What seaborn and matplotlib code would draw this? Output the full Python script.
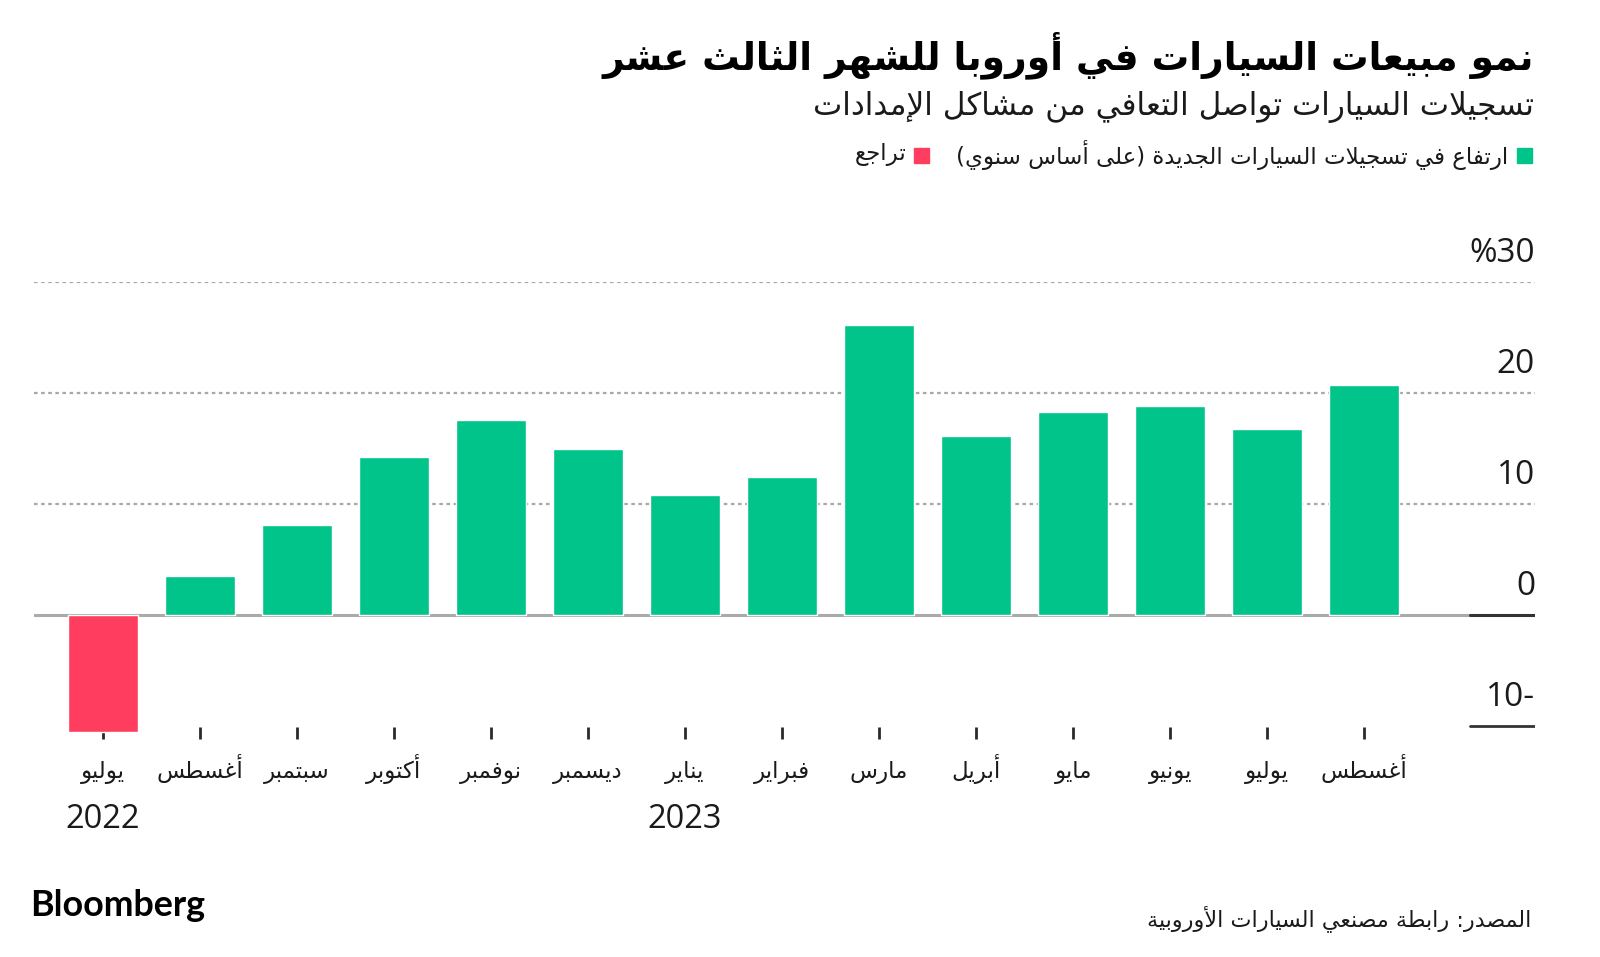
import matplotlib
matplotlib.use("Agg")
import matplotlib.pyplot as plt
import seaborn as sns
import pandas as pd
import numpy as np

# --- data -------------------------------------------------------------
month_keys = ["2022-07", "2022-08", "2022-09", "2022-10", "2022-11", "2022-12",
              "2023-01", "2023-02", "2023-03", "2023-04", "2023-05", "2023-06",
              "2023-07", "2023-08"]
month_names = ["يوليو", "أغسطس", "سبتمبر", "أكتوبر", "نوفمبر", "ديسمبر",
               "يناير", "فبراير", "مارس", "أبريل", "مايو", "يونيو",
               "يوليو", "أغسطس"]
growth = [-10.5, 3.5, 8.1, 14.2, 17.6, 15.0, 10.8, 12.4, 26.1, 16.1, 18.3, 18.8, 16.8, 20.7]
year_labels = {"2022-07": "2022", "2023-01": "2023"}
y_ticks = [30, 20, 10, 0, -10]
y_tick_labels = ["%30", "20", "10", "0", "10-"]

title = "نمو مبيعات السيارات في أوروبا للشهر الثالث عشر"
subtitle = "تسجيلات السيارات تواصل التعافي من مشاكل الإمدادات"
legend_up = "ارتفاع في تسجيلات السيارات الجديدة (على أساس سنوي)"
legend_down = "تراجع"
source = "المصدر: رابطة مصنعي السيارات الأوروبية"

GREEN = "#00C48A"
RED = "#FF3E5F"

# --- minimal arabic shaping (matplotlib has no complex text layout) ----
FORMS = {
    'ء': (0xFE80, 'U'), 'آ': (0xFE81, 'R'), 'أ': (0xFE83, 'R'), 'ؤ': (0xFE85, 'R'),
    'إ': (0xFE87, 'R'), 'ئ': (0xFE89, 'D'), 'ا': (0xFE8D, 'R'), 'ب': (0xFE8F, 'D'),
    'ة': (0xFE93, 'R'), 'ت': (0xFE95, 'D'), 'ث': (0xFE99, 'D'), 'ج': (0xFE9D, 'D'),
    'ح': (0xFEA1, 'D'), 'خ': (0xFEA5, 'D'), 'د': (0xFEA9, 'R'), 'ذ': (0xFEAB, 'R'),
    'ر': (0xFEAD, 'R'), 'ز': (0xFEAF, 'R'), 'س': (0xFEB1, 'D'), 'ش': (0xFEB5, 'D'),
    'ص': (0xFEB9, 'D'), 'ض': (0xFEBD, 'D'), 'ط': (0xFEC1, 'D'), 'ظ': (0xFEC5, 'D'),
    'ع': (0xFEC9, 'D'), 'غ': (0xFECD, 'D'), 'ف': (0xFED1, 'D'), 'ق': (0xFED5, 'D'),
    'ك': (0xFED9, 'D'), 'ل': (0xFEDD, 'D'), 'م': (0xFEE1, 'D'), 'ن': (0xFEE5, 'D'),
    'ه': (0xFEE9, 'D'), 'و': (0xFEED, 'R'), 'ى': (0xFEEF, 'R'), 'ي': (0xFEF1, 'D'),
}
LAM_ALEF = {'آ': 0xFEF5, 'أ': 0xFEF7, 'إ': 0xFEF9, 'ا': 0xFEFB}
MIRROR = {'(': ')', ')': '('}


def ar(text):
    toks = []
    i = 0
    while i < len(text):
        c = text[i]
        if c == 'ل' and i + 1 < len(text) and text[i + 1] in LAM_ALEF:
            toks.append((LAM_ALEF[text[i + 1]], 'R'))
            i += 2
            continue
        if c in FORMS:
            toks.append(FORMS[c])
        else:
            toks.append((c, None))
        i += 1
    out = []
    for k, (base, jt) in enumerate(toks):
        if jt is None:
            out.append(MIRROR.get(base, base))
            continue
        prev = k > 0 and toks[k - 1][1] == 'D'
        nxt = jt == 'D' and k + 1 < len(toks) and toks[k + 1][1] in ('D', 'R')
        if jt == 'U':
            off = 0
        elif prev and nxt:
            off = 3
        elif prev:
            off = 1
        elif nxt:
            off = 2
        else:
            off = 0
        out.append(chr(base + off))
    return ''.join(out)[::-1]


# --- figure -------------------------------------------------------------
sns.set_theme(style="white")
plt.rcParams['font.family'] = ['DejaVu Sans']

W, H = 1600, 957
fig = plt.figure(figsize=(W / 100, H / 100), dpi=100)
fig.patch.set_facecolor("white")


def fx(px):
    return px / W


def fy(py):
    return 1 - py / H


ax_l, ax_r, ax_t, ax_b = 34, 1535, 282, 739
ax = fig.add_axes([fx(ax_l), fy(ax_b), (ax_r - ax_l) / W, (ax_b - ax_t) / H])

df = pd.DataFrame({"month": month_keys, "growth": growth})
df["dir"] = np.where(df["growth"] >= 0, "up", "down")

sns.barplot(data=df, x="month", y="growth", hue="dir",
            palette={"up": GREEN, "down": RED}, dodge=False, legend=False,
            width=0.72, saturation=1, zorder=3, ax=ax)

ax.set_xlim(-0.71, 14.76)
ax.set_ylim(-11.17, 30)
for s in ax.spines.values():
    s.set_visible(False)
ax.set_xlabel("")
ax.set_ylabel("")
ax.set_yticks([])
ax.set_xticks(range(len(month_keys)))
ax.set_xticklabels([ar(m) for m in month_names], fontsize=16.5, color="#1a1a1a")
ax.tick_params(axis="x", bottom=True, direction="in", length=8.5, width=2.0,
               color="#2a2a2a", pad=28)
for lab in ax.get_xticklabels():
    lab.set_verticalalignment("baseline")
ax.set_facecolor("white")

# gridlines and reference lines
split = (1470 - ax_l) / (ax_r - ax_l)
for v, lab in zip(y_ticks, y_tick_labels):
    if v > 0:
        ax.axhline(v, color="#a8a8a8", lw=1.6, ls=(0, (1.6, 1.6)), zorder=1)
    elif v == 0:
        ax.axhline(v, xmax=split, color="#aaaaaa", lw=2.2, zorder=2)
        ax.axhline(v, xmin=split, color="#333333", lw=2.2, zorder=2)
    else:
        ax.axhline(v, xmin=split, color="#333333", lw=2.0, zorder=2)
    ax.annotate(lab, xy=(1.0, v), xycoords=("axes fraction", "data"),
                xytext=(0, 12), textcoords="offset pixels",
                ha="right", va="bottom", fontsize=24, family="Open Sans",
                color="#1a1a1a")

# year labels under the month axis
for key, yr in year_labels.items():
    ax.annotate(yr, xy=(month_keys.index(key), 0), xycoords=("data", "axes fraction"),
                xytext=(0, -80), textcoords="offset pixels",
                ha="center", va="center", fontsize=23.5, family="Open Sans",
                color="#1a1a1a")

# titles
fig.text(fx(1534), fy(55), ar(title), ha="right", va="center",
         fontsize=27, fontweight="bold", color="black")
fig.text(fx(1534), fy(107), ar(subtitle), ha="right", va="center",
         fontsize=22.4, color="#1a1a1a")

# legend
sq = 15
fig.patches.append(plt.Rectangle((fx(1517), fy(163)), sq / W, sq / H,
                                 transform=fig.transFigure, color=GREEN))
fig.text(fx(1508), fy(155), ar(legend_up), ha="right", va="center",
         fontsize=16.5, color="#1a1a1a")
fig.patches.append(plt.Rectangle((fx(914), fy(163)), sq / W, sq / H,
                                 transform=fig.transFigure, color=RED))
fig.text(fx(906), fy(155), ar(legend_down), ha="right", va="center",
         fontsize=16.5, color="#1a1a1a")

# footer
fig.text(fx(30), fy(906), "Bloomberg", ha="left", va="center",
         fontsize=25.8, fontweight="bold", family="Lato", color="black")
fig.text(fx(1531), fy(919), ar(source), ha="right", va="center",
         fontsize=16, color="#1a1a1a")

fig.savefig("out.png", dpi=100, facecolor="white")
